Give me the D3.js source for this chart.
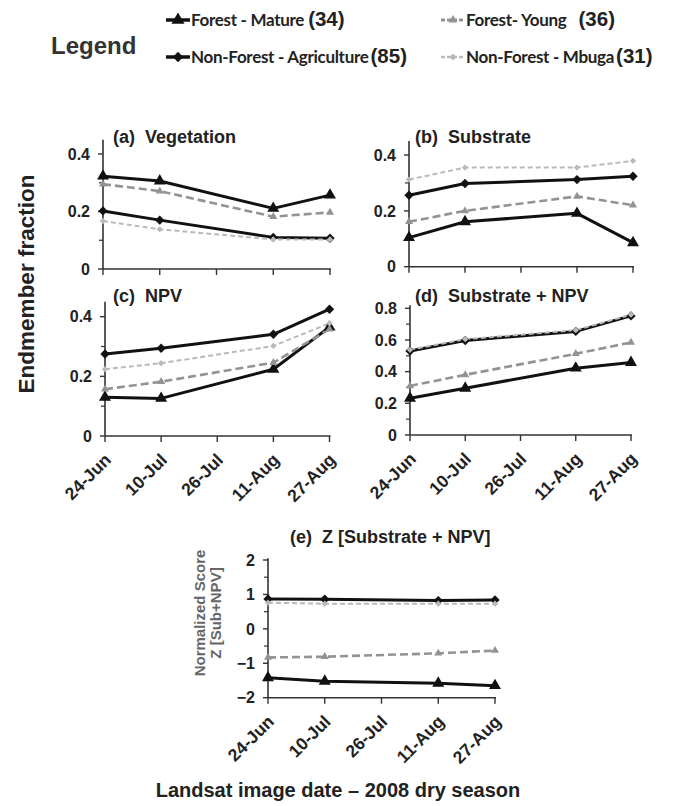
<!DOCTYPE html>
<html><head><meta charset="utf-8">
<script src="https://cdn.jsdelivr.net/npm/d3@7"></script>
<style>
body{margin:0;background:#fff;}
svg{display:block;}
text{font-family:"Liberation Sans",Arial,sans-serif;}
</style></head>
<body><svg id="c" width="677" height="806"></svg>
<script>
// ---------- DATA ----------
const tickDates = ["2008-06-24","2008-07-10","2008-07-26","2008-08-11","2008-08-27"];
const tickLabels = ["24-Jun","10-Jul","26-Jul","11-Aug","27-Aug"];
const obsDates = ["2008-06-24","2008-07-10","2008-08-11","2008-08-27"];
const seriesNames = ["Forest - Mature","Forest- Young","Non-Forest - Agriculture","Non-Forest - Mbuga"];
const seriesCounts = ["(34)","(36)","(85)","(31)"];

// (a) Vegetation
const vegMature = [0.323,0.306,0.211,0.257];
const vegYoung  = [0.295,0.271,0.182,0.197];
const vegAgri   = [0.202,0.170,0.110,0.107];
const vegMbuga  = [0.167,0.138,0.103,0.103];
// (b) Substrate
const subMature = [0.104,0.161,0.191,0.086];
const subYoung  = [0.161,0.200,0.252,0.220];
const subAgri   = [0.256,0.298,0.312,0.324];
const subMbuga  = [0.312,0.355,0.355,0.379];
// (c) NPV
const npvMature = [0.130,0.126,0.224,0.365];
const npvYoung  = [0.157,0.182,0.246,0.358];
const npvAgri   = [0.275,0.294,0.341,0.425];
const npvMbuga  = [0.224,0.244,0.302,0.378];
// (d) Substrate + NPV
const snMature = [0.232,0.295,0.422,0.458];
const snYoung  = [0.310,0.380,0.513,0.584];
const snAgri   = [0.530,0.597,0.654,0.752];
const snMbuga  = [0.538,0.605,0.662,0.760];
// (e) Z [Substrate + NPV]
const zMature = [-1.42,-1.52,-1.58,-1.65];
const zYoung  = [-0.83,-0.81,-0.71,-0.63];
const zAgri   = [0.87,0.86,0.82,0.84];
const zMbuga  = [0.76,0.73,0.73,0.73];

const fracTicks = [0,0.2,0.4];
const fracMinor = [0.1,0.3];
const snTicks = [0,0.2,0.4,0.6,0.8];
const snMinor = [0.1,0.3,0.5,0.7];
const zTicks = [-2,-1,0,1,2];
const zMinor = [-1.5,-0.5,0.5,1.5];

// ---------- STYLES ----------
const diamond = {draw(ctx,size){const r=Math.sqrt(size/2);ctx.moveTo(0,-r);ctx.lineTo(r,0);ctx.lineTo(0,r);ctx.lineTo(-r,0);ctx.closePath();}};
const styles = [
  {stroke:"#111", width:3, dash:null, sym:d3.symbolTriangle, size:62, fill:"#111"},
  {stroke:"#939393", width:2.6, dash:"8,4", sym:d3.symbolTriangle, size:28, fill:"#939393"},
  {stroke:"#111", width:3, dash:null, sym:diamond, size:44, fill:"#111"},
  {stroke:"#bababa", width:2, dash:"5,3", sym:diamond, size:20, fill:"#bababa"}
];

const svg = d3.select("#c");
const parse = d3.timeParse("%Y-%m-%d");
const tDates = tickDates.map(parse);
const oDates = obsDates.map(parse);

function panel(o){
  const x = d3.scaleTime().domain([tDates[0], tDates[4]]).range([o.x0,o.x1]);
  const y = d3.scaleLinear().domain(o.domain).range([o.yb,o.yt]);
  const g = svg.append("g");
  const axisCol = "#333";
  g.append("line").attr("x1",o.x0).attr("x2",o.x0).attr("y1",y(o.domain[0])).attr("y2",y(o.ymaxLine))
    .attr("stroke",axisCol).attr("stroke-width",1.6);
  g.append("line").attr("x1",o.x0).attr("x2",o.x1+1).attr("y1",y(o.domain[0])).attr("y2",y(o.domain[0]))
    .attr("stroke",axisCol).attr("stroke-width",1.6);
  o.ticks.forEach((t,i)=>{
    g.append("line").attr("x1",o.x0-5).attr("x2",o.x0).attr("y1",y(t)).attr("y2",y(t)).attr("stroke",axisCol).attr("stroke-width",1.4);
    g.append("text").attr("x",o.x0-13).attr("y",y(t)).attr("dy","0.36em").attr("text-anchor","end")
      .attr("font-size",16).attr("font-weight","bold").attr("fill","#222").text(o.tickFmt(t));
  });
  o.minor.forEach(t=>{
    g.append("line").attr("x1",o.x0-4).attr("x2",o.x0).attr("y1",y(t)).attr("y2",y(t)).attr("stroke",axisCol).attr("stroke-width",1.2);
  });
  tDates.forEach((d,i)=>{
    g.append("line").attr("x1",x(d)).attr("x2",x(d)).attr("y1",y(o.domain[0])).attr("y2",y(o.domain[0])+6).attr("stroke",axisCol).attr("stroke-width",1.4);
    if(o.xlabels){
      g.append("text").attr("transform",`translate(${x(d)+7},${y(o.domain[0])+25}) rotate(-45)`)
        .attr("text-anchor","end").attr("font-size",17.5).attr("font-weight","bold").attr("fill","#222")
        .text(tickLabels[i]);
    }
  });
  const line = d3.line().x((v,i)=>x(oDates[i])).y(v=>y(v));
  o.series.forEach((vals,si)=>{
    const st = styles[si];
    g.append("path").datum(vals).attr("d",line).attr("fill","none").attr("stroke",st.stroke)
      .attr("stroke-width",st.width).attr("stroke-dasharray",st.dash).attr("stroke-linejoin","round");
  });
  o.series.forEach((vals,si)=>{
    const st = styles[si];
    const sym = d3.symbol().type(st.sym).size(st.size);
    vals.forEach((v,i)=>{
      g.append("path").attr("d",sym).attr("transform",`translate(${x(oDates[i])},${y(v)})`).attr("fill",st.fill);
    });
  });
  g.append("text").attr("x",o.tx).attr("y",o.ty).attr("font-size",18).attr("font-weight","bold").attr("fill","#222")
    .attr("xml:space","preserve").text(o.title);
}

const fmt1 = t => t===0 ? "0" : d3.format(".1f")(t);

panel({x0:103,x1:330,yb:269,yt:154,domain:[0,0.4],ymaxLine:0.45,ticks:fracTicks,minor:fracMinor,tickFmt:fmt1,
  series:[vegMature,vegYoung,vegAgri,vegMbuga],xlabels:false,title:"(a)  Vegetation",tx:113,ty:143});
panel({x0:409,x1:633,yb:266.7,yt:155,domain:[0,0.4],ymaxLine:0.45,ticks:fracTicks,minor:fracMinor,tickFmt:fmt1,
  series:[subMature,subYoung,subAgri,subMbuga],xlabels:false,title:"(b)  Substrate",tx:415,ty:143});
panel({x0:105,x1:329.5,yb:436,yt:316.7,domain:[0,0.4],ymaxLine:0.45,ticks:fracTicks,minor:fracMinor,tickFmt:fmt1,
  series:[npvMature,npvYoung,npvAgri,npvMbuga],xlabels:true,title:"(c)  NPV",tx:113,ty:302});
panel({x0:410,x1:631,yb:435,yt:308.3,domain:[0,0.8],ymaxLine:0.82,ticks:snTicks,minor:snMinor,tickFmt:fmt1,
  series:[snMature,snYoung,snAgri,snMbuga],xlabels:true,title:"(d)  Substrate + NPV",tx:415,ty:302});
panel({x0:268,x1:495,yb:697.7,yt:560,domain:[-2,2],ymaxLine:2.05,ticks:zTicks,minor:zMinor,tickFmt:d3.format("d"),
  series:[zMature,zYoung,zAgri,zMbuga],xlabels:true,title:"(e)  Z [Substrate + NPV]",tx:290,ty:543});

// Axis titles
svg.append("text").attr("transform","translate(34,284) rotate(-90)").attr("text-anchor","middle")
  .attr("font-size",22.5).attr("font-weight","bold").attr("fill","#222").text("Endmember fraction");
svg.append("text").attr("x",338).attr("y",797).attr("text-anchor","middle")
  .attr("font-size",20).attr("font-weight","bold").attr("fill","#222").text("Landsat image date – 2008 dry season");
svg.append("text").attr("transform","translate(205,613) rotate(-90)").attr("text-anchor","middle")
  .attr("font-size",15).attr("font-weight","bold").attr("fill","#666").text("Normalized Score");
svg.append("text").attr("transform","translate(221,613) rotate(-90)").attr("text-anchor","middle")
  .attr("font-size",15).attr("font-weight","bold").attr("fill","#666").text("Z [Sub+NPV]");

// Legend
svg.append("text").attr("x",51).attr("y",54).attr("font-family","'Open Sans',sans-serif").attr("font-size",24)
  .attr("font-weight","600").attr("fill","#333").text("Legend");
const legPos = [[166,20],[441,20],[166,57],[441,57]];
const countGap = [4,12,2,2];
seriesNames.forEach((nm,i)=>{
  const st = styles[i];
  const [lx,ly] = legPos[i];
  const lg = svg.append("g");
  lg.append("line").attr("x1",lx).attr("x2",lx+24).attr("y1",ly).attr("y2",ly).attr("stroke",st.stroke)
    .attr("stroke-width",st.width+0.5).attr("stroke-dasharray",st.dash?"4,2":null);
  lg.append("path").attr("d",d3.symbol().type(st.sym).size(st.size*1.2)).attr("transform",`translate(${lx+12},${ly})`).attr("fill",st.fill);
  const t = lg.append("text").attr("x",lx+25).attr("y",ly).attr("dy","0.36em").attr("fill","#222");
  t.append("tspan").attr("font-family","Lato,sans-serif").attr("font-size",17).attr("font-weight","bold")
    .attr("letter-spacing","-0.3").text(nm);
  t.append("tspan").attr("font-size",20.5).attr("font-weight","bold").attr("dx",countGap[i]).text(seriesCounts[i]);
});
</script></body></html>
